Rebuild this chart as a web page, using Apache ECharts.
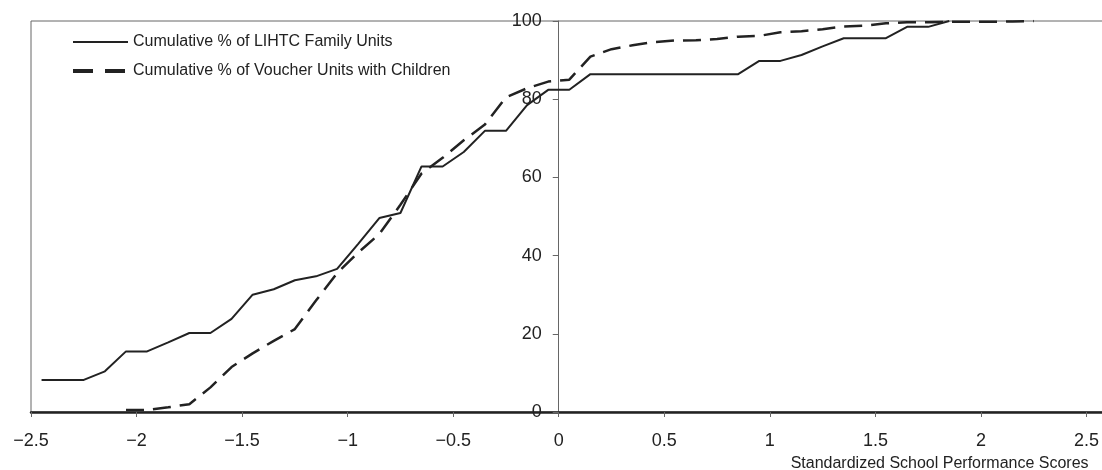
<!DOCTYPE html>
<html>
<head>
<meta charset="utf-8">
<style>
  html, body { margin: 0; padding: 0; background: #fff; }
  #chart { width: 1102px; height: 470px; }
</style>
<script src="https://cdn.jsdelivr.net/npm/echarts@6/dist/echarts.min.js"></script>
</head>
<body>
<div id="chart"></div>
<script>
// ---- data ----
const seriesNames = ['Cumulative % of LIHTC Family Units', 'Cumulative % of Voucher Units with Children'];

const lihtcScores = [-2.45, -2.35, -2.25, -2.15, -2.05, -1.95, -1.85, -1.75, -1.65, -1.55,
  -1.45, -1.35, -1.25, -1.15, -1.05, -0.95, -0.85, -0.75, -0.65, -0.55,
  -0.45, -0.35, -0.25, -0.15, -0.05, 0.05, 0.15, 0.25, 0.35, 0.45,
  0.55, 0.65, 0.75, 0.85, 0.95, 1.05, 1.15, 1.25, 1.35, 1.45,
  1.55, 1.65, 1.75, 1.85];
const lihtcPct = [8.2, 8.2, 8.2, 10.4, 15.5, 15.5, 17.8, 20.2, 20.2, 23.8,
  30.0, 31.4, 33.7, 34.7, 36.6, 43.0, 49.6, 50.9, 62.8, 62.8,
  66.5, 71.9, 71.9, 78.5, 82.4, 82.4, 86.4, 86.4, 86.4, 86.4,
  86.4, 86.4, 86.4, 86.4, 89.8, 89.8, 91.3, 93.5, 95.6, 95.6,
  95.6, 98.5, 98.5, 100];

const voucherScores = [-2.05, -1.95, -1.85, -1.75, -1.65, -1.55, -1.45, -1.35, -1.25, -1.15,
  -1.05, -0.95, -0.85, -0.75, -0.65, -0.55, -0.45, -0.35, -0.25, -0.15,
  -0.05, 0.05, 0.15, 0.25, 0.35, 0.45, 0.55, 0.65, 0.75, 0.85,
  0.95, 1.05, 1.15, 1.25, 1.35, 1.45, 1.55, 1.65, 1.75, 1.85,
  1.95, 2.05, 2.15, 2.25];
const voucherPct = [0.5, 0.5, 1.2, 2.0, 6.3, 11.5, 15.0, 18.2, 21.2, 28.5,
  35.5, 40.8, 45.5, 53.0, 61.0, 65.0, 69.5, 73.5, 80.5, 82.8,
  84.5, 85.0, 90.9, 92.8, 93.8, 94.6, 95.0, 95.1, 95.4, 96.0,
  96.2, 97.1, 97.4, 97.9, 98.6, 98.8, 99.4, 99.7, 99.7, 99.8,
  99.8, 99.8, 99.9, 100];

const xTitle = 'Standardized School Performance Scores';

// ---- chart ----
const FONT = "'Liberation Sans', Arial, sans-serif";
const INK = '#222';
const GREY = '#666';

const X_MIN = -2.5, X_MAX = 2.6;
const GRID_LEFT = 31, GRID_W = 1076.6;
// y axis sits where x = 0
const Y_AXIS_OFFSET = -((0 - X_MIN) / (X_MAX - X_MIN)) * GRID_W;

const chart = echarts.init(document.getElementById('chart'), null, { renderer: 'canvas' });

function pairs(xs, ys) { return xs.map((x, i) => [x, ys[i]]); }

const hiddenSymbol = { color: 'rgba(0,0,0,0)', borderColor: 'rgba(0,0,0,0)', opacity: 0 };

chart.setOption({
  animation: false,
  backgroundColor: '#fff',
  textStyle: { fontFamily: FONT },
  grid: {
    left: GRID_LEFT, top: 21, width: GRID_W, bottom: 58,
    containLabel: false, outerBoundsMode: 'none',
    show: true, borderColor: GREY, borderWidth: 1, backgroundColor: 'transparent'
  },
  legend: {
    orient: 'vertical',
    left: 71, top: 34, padding: 0,
    itemWidth: 55, itemHeight: 14, itemGap: 13,
    textStyle: { fontFamily: FONT, fontSize: 16, color: INK },
    data: [
      { name: seriesNames[0], itemStyle: hiddenSymbol, lineStyle: { width: 2, type: 'solid', color: INK } },
      { name: seriesNames[1], itemStyle: hiddenSymbol, lineStyle: { width: 4, type: [20, 12], color: INK } }
    ]
  },
  xAxis: {
    type: 'value',
    min: X_MIN, max: X_MAX, interval: 0.5,
    splitLine: { show: false },
    axisLine: { show: true, onZero: false, lineStyle: { color: INK, width: 2.5 } },
    axisTick: { show: true, length: 5, lineStyle: { color: GREY, width: 1 } },
    axisLabel: {
      showMaxLabel: false,
      margin: 20, fontSize: 18, color: INK, fontFamily: FONT,
      formatter: v => String(v).replace('-', '\u2212')
    },
    name: xTitle,
    nameLocation: 'end',
    nameGap: -19,
    nameTextStyle: {
      fontSize: 16, color: INK, fontFamily: FONT,
      align: 'right', verticalAlign: 'top', padding: [44, 0, 0, 0]
    }
  },
  yAxis: {
    type: 'value',
    position: 'left',
    offset: Y_AXIS_OFFSET,
    min: 0, max: 100, interval: 20,
    splitLine: { show: false },
    axisLine: { show: true, onZero: false, lineStyle: { color: GREY, width: 1 } },
    axisTick: { show: true, length: 6, lineStyle: { color: GREY, width: 1 } },
    axisLabel: { margin: 17, fontSize: 18, color: INK, fontFamily: FONT }
  },
  series: [
    {
      name: seriesNames[0],
      type: 'line',
      data: pairs(lihtcScores, lihtcPct),
      symbol: 'none',
      itemStyle: { color: INK },
      lineStyle: { color: INK, width: 2, type: 'solid' },
      z: 3
    },
    {
      name: seriesNames[1],
      type: 'line',
      data: pairs(voucherScores, voucherPct),
      symbol: 'none',
      itemStyle: { color: INK },
      lineStyle: { color: INK, width: 2.5, type: [18, 9] },
      z: 3
    }
  ]
});
</script>
</body>
</html>
